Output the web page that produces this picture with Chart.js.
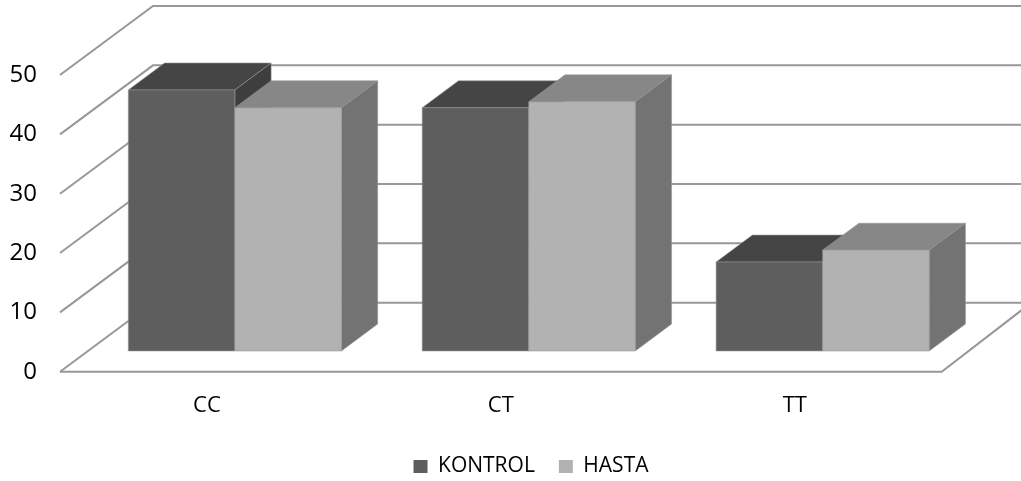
<!DOCTYPE html>
<html>
<head>
<meta charset="utf-8">
<script src="https://cdn.jsdelivr.net/npm/chart.js@4/dist/chart.umd.min.js"></script>
<style>
  html, body { margin: 0; padding: 0; background: #ffffff; }
  #wrap { width: 1021px; height: 481px; }
</style>
</head>
<body>
<div id="wrap"><canvas id="chart" width="1021" height="481"></canvas></div>
<script>
// Genotype groups and their percentages
const categories = ['CC', 'CT', 'TT'];
const kontrol = [44, 41, 15];
const hasta = [41, 42, 17];
const yTicks = [0, 10, 20, 30, 40, 50];

// Oblique projection used for the walls, floor and boxes
const DEPTH = { x: 93, y: -69 };   // full depth of the floor
const RIGHT_EDGE_DX = 89.6;        // horizontal run of the floor's right edge
const BAR_FRONT = 0.3;             // where the front faces of the boxes sit (fraction of depth)
const BAR_DEPTH = 0.39;            // thickness of the boxes (fraction of depth)
const GRID_COLOR = '#989898';
const LEGEND_SHIFT = 41;           // legend sits centred under the plot, not the page

const FACES = [
  { front: '#5e5e5e', top: '#454545', side: '#3e3e3e' },
  { front: '#b2b2b2', top: '#878787', side: '#737373' }
];

function poly(ctx, pts, fill) {
  ctx.beginPath();
  ctx.moveTo(pts[0][0], pts[0][1]);
  for (let i = 1; i < pts.length; i++) ctx.lineTo(pts[i][0], pts[i][1]);
  ctx.closePath();
  ctx.fillStyle = fill;
  ctx.fill();
  ctx.strokeStyle = 'rgba(150,150,150,0.55)';
  ctx.lineWidth = 1;
  ctx.stroke();
}

const box3d = {
  id: 'box3d',
  afterLayout(chart) {
    const lg = chart.legend;
    if (lg) { lg.left += LEGEND_SHIFT; lg.width -= LEGEND_SHIFT; }
  },
  beforeDatasetsDraw(chart) {
    const ctx = chart.ctx;
    const ys = chart.scales.y;
    const L = chart.chartArea.left;
    const R = chart.chartArea.right;

    // side wall, back wall and floor lines
    ctx.save();
    ctx.strokeStyle = GRID_COLOR;
    ctx.lineWidth = 2;
    ctx.lineCap = 'butt';
    yTicks.forEach(v => {
      const py = ys.getPixelForValue(v);
      ctx.beginPath();
      ctx.moveTo(L, py);
      ctx.lineTo(L + DEPTH.x, py + DEPTH.y);
      ctx.lineTo(R + DEPTH.x + 40, py + DEPTH.y);
      ctx.stroke();
    });
    const p0 = ys.getPixelForValue(0);
    ctx.beginPath();
    ctx.moveTo(L, p0);
    ctx.lineTo(R, p0);
    ctx.lineTo(R + RIGHT_EDGE_DX, p0 + DEPTH.y);
    ctx.stroke();
    ctx.restore();

    // boxes, drawn category by category so nearer faces cover farther ones
    const fx = BAR_FRONT * DEPTH.x, fy = BAR_FRONT * DEPTH.y;
    const dx = BAR_DEPTH * DEPTH.x, dy = BAR_DEPTH * DEPTH.y;
    ctx.save();
    categories.forEach((_, i) => {
      chart.data.datasets.forEach((ds, di) => {
        const meta = chart.getDatasetMeta(di);
        if (meta.hidden) return;
        const bar = meta.data[i];
        const { x, y, base, width } = bar.getProps(['x', 'y', 'base', 'width'], true);
        const x0 = x - width / 2 + fx, x1 = x + width / 2 + fx;
        const yt = y + fy, yb = base + fy;
        const c = FACES[di];
        poly(ctx, [[x0, yt], [x1, yt], [x1 + dx, yt + dy], [x0 + dx, yt + dy]], c.top);
        poly(ctx, [[x1, yt], [x1 + dx, yt + dy], [x1 + dx, yb + dy], [x1, yb]], c.side);
        poly(ctx, [[x0, yt], [x1, yt], [x1, yb], [x0, yb]], c.front);
      });
    });
    ctx.restore();
    return false;
  }
};

Chart.defaults.font.family = "'Open Sans', sans-serif";
Chart.defaults.color = '#000000';

new Chart(document.getElementById('chart'), {
  type: 'bar',
  data: {
    labels: categories,
    datasets: [
      { label: 'KONTROL', data: kontrol, backgroundColor: FACES[0].front, borderWidth: 0 },
      { label: 'HASTA', data: hasta, backgroundColor: FACES[1].front, borderWidth: 0 }
    ]
  },
  options: {
    responsive: false,
    animation: false,
    layout: { padding: { top: 75, left: 0, right: 0, bottom: -6 } },
    datasets: { bar: { categoryPercentage: 0.725, barPercentage: 1.0 } },
    scales: {
      x: {
        grid: { display: false, drawTicks: false },
        border: { display: false },
        ticks: { font: { size: 22 }, color: '#000', padding: 21, maxRotation: 0 },
        afterFit(s) { s.height = 60.3; }
      },
      y: {
        min: 0, max: 50,
        afterBuildTicks(s) { s.ticks = yTicks.map(v => ({ value: v })); },
        grid: { display: false, drawTicks: false },
        border: { display: false },
        ticks: { font: { size: 24 }, color: '#000', padding: 23 },
        afterFit(s) { s.width = 60; }
      },
      yRight: {
        type: 'linear', position: 'right', display: true,
        grid: { display: false, drawTicks: false },
        border: { display: false },
        ticks: { display: false },
        afterFit(s) { s.width = 79.3; }
      }
    },
    plugins: {
      legend: {
        position: 'bottom',
        labels: { font: { size: 21 }, color: '#000', boxWidth: 14, boxHeight: 13, padding: 24 }
      },
      tooltip: { enabled: false }
    }
  },
  plugins: [box3d]
});
</script>
</body>
</html>
